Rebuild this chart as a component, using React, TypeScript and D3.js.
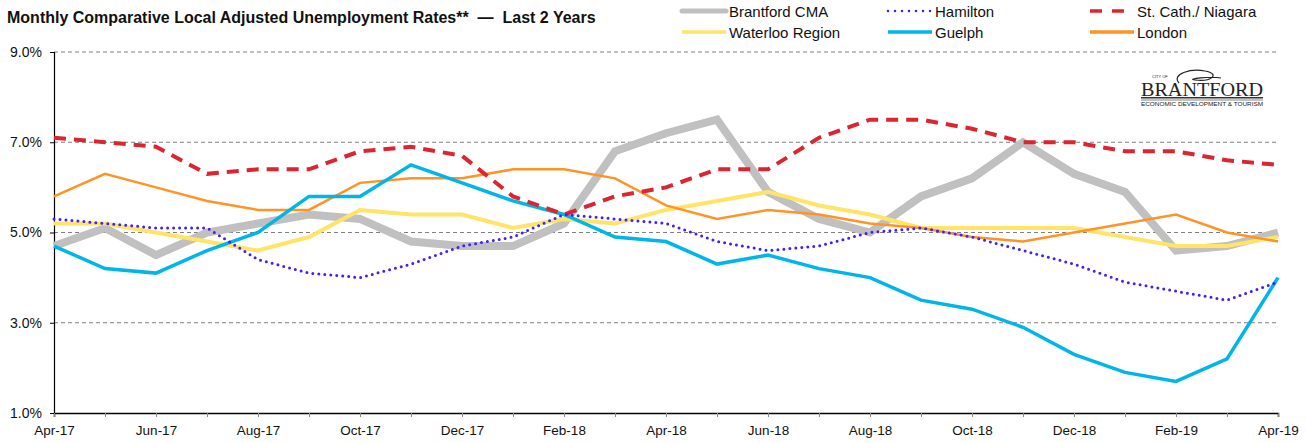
import { useEffect, useRef } from 'react';
import * as d3 from 'd3';

const months = [
  'Apr-17', 'May-17', 'Jun-17', 'Jul-17', 'Aug-17', 'Sep-17', 'Oct-17', 'Nov-17', 'Dec-17',
  'Jan-18', 'Feb-18', 'Mar-18', 'Apr-18', 'May-18', 'Jun-18', 'Jul-18', 'Aug-18', 'Sep-18',
  'Oct-18', 'Nov-18', 'Dec-18', 'Jan-19', 'Feb-19', 'Mar-19', 'Apr-19',
];

const brantford = [4.7, 5.1, 4.5, 5.0, 5.2, 5.4, 5.3, 4.8, 4.7, 4.7, 5.2, 6.8, 7.2, 7.5, 5.9, 5.3, 5.0, 5.8, 6.2, 7.0, 6.3, 5.9, 4.6, 4.7, 5.0];
const hamilton = [5.3, 5.2, 5.1, 5.1, 4.4, 4.1, 4.0, 4.3, 4.7, 4.9, 5.4, 5.3, 5.2, 4.8, 4.6, 4.7, 5.0, 5.1, 4.9, 4.6, 4.3, 3.9, 3.7, 3.5, 3.9];
const stCath = [7.1, 7.0, 6.9, 6.3, 6.4, 6.4, 6.8, 6.9, 6.7, 5.8, 5.4, 5.8, 6.0, 6.4, 6.4, 7.1, 7.5, 7.5, 7.3, 7.0, 7.0, 6.8, 6.8, 6.6, 6.5];
const waterloo = [5.2, 5.2, 5.0, 4.8, 4.6, 4.9, 5.5, 5.4, 5.4, 5.1, 5.3, 5.2, 5.5, 5.7, 5.9, 5.6, 5.4, 5.1, 5.1, 5.1, 5.1, 4.9, 4.7, 4.7, 4.9];
const guelph = [4.7, 4.2, 4.1, 4.6, 5.0, 5.8, 5.8, 6.5, 6.1, 5.7, 5.4, 4.9, 4.8, 4.3, 4.5, 4.2, 4.0, 3.5, 3.3, 2.9, 2.3, 1.9, 1.7, 2.2, 4.0];
const london = [5.8, 6.3, 6.0, 5.7, 5.5, 5.5, 6.1, 6.2, 6.2, 6.4, 6.4, 6.2, 5.6, 5.3, 5.5, 5.4, 5.2, 5.1, 4.9, 4.8, 5.0, 5.2, 5.4, 5.0, 4.8];

const yTicks = [1, 3, 5, 7, 9];

const series = [
  { name: 'Brantford CMA', values: brantford, color: '#c0c0c0', width: 8, dash: '', cap: 'butt' },
  { name: 'Waterloo Region', values: waterloo, color: '#ffe468', width: 4, dash: '', cap: 'butt' },
  { name: 'London', values: london, color: '#ff9426', width: 2.5, dash: '', cap: 'butt' },
  { name: 'Guelph', values: guelph, color: '#00b5e8', width: 3.5, dash: '', cap: 'butt' },
  { name: 'St. Cath./ Niagara', values: stCath, color: '#db2531', width: 4, dash: '12,8', cap: 'butt' },
  { name: 'Hamilton', values: hamilton, color: '#3d1fff', width: 3, dash: '0,6', cap: 'round' },
];

const legendOrder = [
  ['Brantford CMA', 'Hamilton', 'St. Cath./ Niagara'],
  ['Waterloo Region', 'Guelph', 'London'],
];

export default function App() {
  const svgRef = useRef<SVGSVGElement>(null);

  useEffect(() => {
    if (!svgRef.current) return;
    const svg = d3.select(svgRef.current);
    svg.selectAll('*').remove();

    const W = 1307;
    const H = 443;
    const left = 54;
    const right = 1278;
    const top = 52;
    const bottom = 413;
    const font = 'Liberation Sans, Arial, sans-serif';

    svg.attr('width', W).attr('height', H).style('font-family', font);
    svg.append('rect').attr('width', W).attr('height', H).attr('fill', '#fff');

    const x = d3.scalePoint<string>().domain(months).range([left, right]);
    const y = d3.scaleLinear().domain([1, 9]).range([bottom, top]);

    // Title
    svg.append('text')
      .attr('x', 7)
      .attr('y', 23)
      .attr('font-size', '16px')
      .attr('font-weight', 'bold')
      .attr('fill', '#111')
      .style('white-space', 'pre')
      .text('Monthly Comparative Local Adjusted Unemployment Rates**  \u2014  Last 2 Years');

    // Grid lines
    svg.append('g')
      .selectAll('line')
      .data(yTicks.filter((d) => d > 1))
      .enter()
      .append('line')
      .attr('x1', left)
      .attr('x2', right)
      .attr('y1', (d) => y(d))
      .attr('y2', (d) => y(d))
      .attr('stroke', '#808080')
      .attr('stroke-width', 1.2)
      .attr('stroke-dasharray', '4,3');

    // Y axis
    const yAxis = svg.append('g')
      .attr('transform', `translate(${left},0)`)
      .call(d3.axisLeft(y).tickValues(yTicks).tickSize(4).tickPadding(8).tickFormat((d) => `${(d as number).toFixed(1)}%`));
    yAxis.selectAll('text').attr('fill', '#111').attr('font-size', '14px').attr('font-family', font);
    yAxis.select('.domain').attr('stroke', '#000').attr('stroke-width', 1.2);
    yAxis.selectAll('.tick line').attr('stroke', '#000');

    // X axis
    const xAxis = svg.append('g')
      .attr('transform', `translate(0,${bottom})`)
      .call(d3.axisBottom(x).tickSize(4).tickPadding(8).tickFormat((d, i) => (i % 2 === 0 ? d : '')));
    xAxis.selectAll('text').attr('fill', '#111').attr('font-size', '13.5px').attr('font-family', font);
    xAxis.select('.domain').attr('stroke', '#000').attr('stroke-width', 1.5);
    xAxis.selectAll('.tick line').attr('stroke', '#888');

    // Lines
    const line = d3.line<number>()
      .x((_, i) => x(months[i]) as number)
      .y((d) => y(d));

    series.forEach((s) => {
      svg.append('path')
        .datum(s.values)
        .attr('fill', 'none')
        .attr('stroke', s.color)
        .attr('stroke-width', s.width)
        .attr('stroke-dasharray', s.dash || null)
        .attr('stroke-linecap', s.cap)
        .attr('stroke-linejoin', 'miter')
        .attr('d', line);
    });

    // Legend
    const colX = [682, 888, 1090];
    const rowY = [11, 32];
    legendOrder.forEach((row, r) => {
      row.forEach((name, c) => {
        const s = series.find((d) => d.name === name)!;
        const g = svg.append('g').attr('transform', `translate(${colX[c]},${rowY[r]})`);
        g.append('line')
          .attr('x1', 0)
          .attr('x2', name === 'St. Cath./ Niagara' ? 34 : 44)
          .attr('y1', 0)
          .attr('y2', 0)
          .attr('stroke', s.color)
          .attr('stroke-width', name === 'Brantford CMA' ? 5 : name === 'Hamilton' ? 2.5 : 3.5)
          .attr('stroke-linecap', name === 'Brantford CMA' ? 'round' : s.cap)
          .attr('stroke-dasharray', name === 'St. Cath./ Niagara' ? '12,10' : name === 'Hamilton' ? '0,7' : null);
        g.append('text')
          .attr('x', 47)
          .attr('y', 6)
          .attr('font-size', '15px')
          .attr('fill', '#111')
          .text(name);
      });
    });

    // Logo
    const logo = svg.append('g').attr('transform', 'translate(1141,66)');
    logo.append('path')
      .attr('d', 'M38,17 C30,8 50,2 64,5 C80,8 70,16 54,14 C44,13 70,10 80,12')
      .attr('fill', 'none')
      .attr('stroke', '#222')
      .attr('stroke-width', 1.2);
    logo.append('text')
      .attr('x', 11)
      .attr('y', 12)
      .attr('font-size', '4px')
      .attr('fill', '#222')
      .text('CITY OF');
    logo.append('text')
      .attr('x', 0)
      .attr('y', 30)
      .attr('font-size', '19px')
      .attr('font-family', 'Liberation Serif, serif')
      .attr('textLength', 122)
      .attr('lengthAdjust', 'spacingAndGlyphs')
      .attr('fill', '#222')
      .text('BRANTFORD');
    logo.append('rect').attr('x', 0).attr('y', 31).attr('width', 122).attr('height', 1.5).attr('fill', '#333');
    logo.append('rect').attr('x', 0).attr('y', 33.5).attr('width', 122).attr('height', 1).attr('fill', '#888');
    logo.append('text')
      .attr('x', 0)
      .attr('y', 40)
      .attr('font-size', '5px')
      .attr('textLength', 122)
      .attr('lengthAdjust', 'spacingAndGlyphs')
      .attr('fill', '#222')
      .text('ECONOMIC DEVELOPMENT & TOURISM');
  }, []);

  return (
    <div style={{ position: 'absolute', left: 0, top: 0 }}>
      <svg ref={svgRef} />
    </div>
  );
}
